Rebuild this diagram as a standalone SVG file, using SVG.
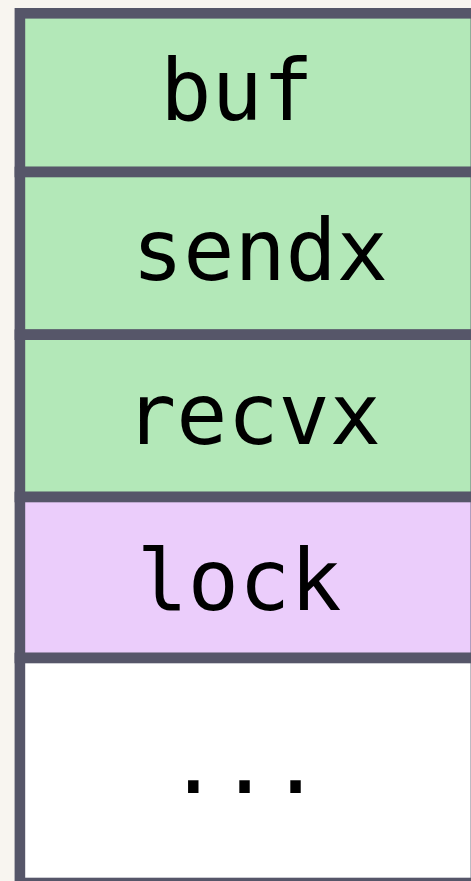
<svg xmlns="http://www.w3.org/2000/svg" width="471" height="881" viewBox="0 0 471 881">
<style>
.cell{stroke:#565669;stroke-width:10.6}
.g{fill:#b3e8b8}
.p{fill:#ebcdfb}
.w{fill:#ffffff}
.t{font-family:"DejaVu Sans Mono",monospace;font-size:85px;fill:#000;text-anchor:middle}
</style>
<rect x="0" y="0" width="471" height="881" fill="#f8f5f0"/>
<g id="buf"><rect class="cell g" x="19.9" y="13.3" width="456" height="158.7"/><text class="t" x="237" y="120">buf</text></g>
<g id="sendx"><rect class="cell g" x="19.9" y="172" width="456" height="162.7"/><text class="t" x="260" y="280">sendx</text></g>
<g id="recvx"><rect class="cell g" x="19.9" y="334.7" width="456" height="162.3"/><text class="t" x="253" y="444">recvx</text></g>
<g id="lock"><rect class="cell p" x="19.9" y="497" width="456" height="161"/><text class="t" x="239" y="610">lock</text></g>
<g id="more"><rect class="cell w" x="19.9" y="658" width="456" height="225"/><text class="t" x="244.5" y="793">...</text></g>
<g id="connectors"></g>
</svg>
